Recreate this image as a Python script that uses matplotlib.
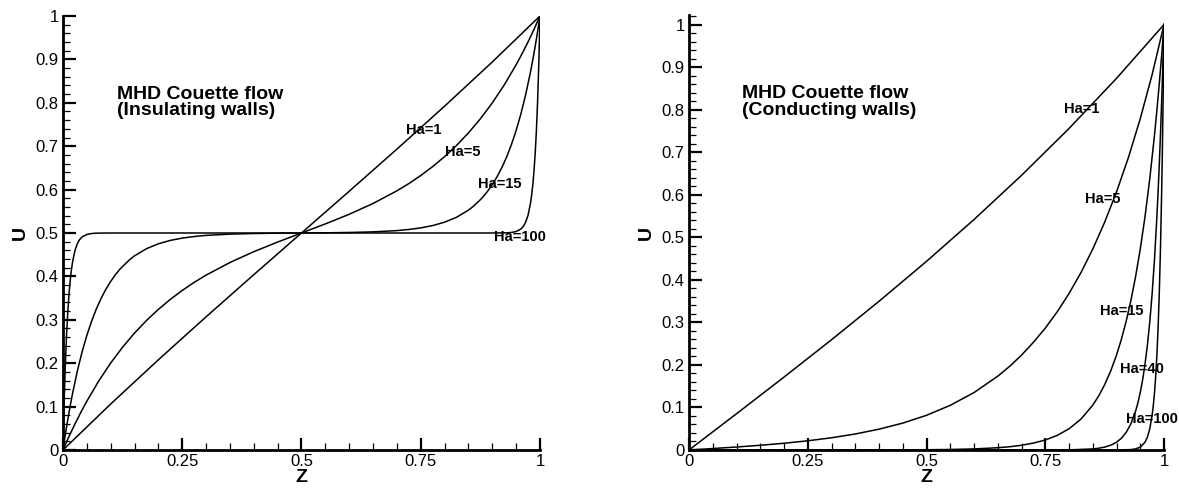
import matplotlib
matplotlib.use("Agg")
import matplotlib.pyplot as plt
from matplotlib.ticker import MultipleLocator

plt.rcParams['font.family'] = ['Liberation Sans', 'DejaVu Sans']

# ---- insulating walls (left panel) ----
z_ins_ha1 = [0, 0.1, 0.2, 0.3, 0.4, 0.5, 0.6, 0.7, 0.8, 0.9, 1.0]
u_ins_ha1 = [0, 0.1059, 0.2078, 0.3068, 0.4039, 0.5, 0.5961, 0.6932, 0.7922, 0.8941, 1.0]

z_ins_ha5 = [0, 0.0125, 0.025, 0.0375, 0.05, 0.075, 0.1, 0.125, 0.15, 0.175, 0.2, 0.225, 0.25, 0.275,
             0.3, 0.35, 0.4, 0.45, 0.5, 0.55, 0.6, 0.65, 0.7, 0.725, 0.75, 0.775, 0.8, 0.825, 0.85,
             0.875, 0.9, 0.925, 0.95, 0.9625, 0.975, 0.9875, 1.0]
u_ins_ha5 = [0, 0.0307, 0.0596, 0.0868, 0.1123, 0.1590, 0.2003, 0.2369, 0.2694, 0.2983, 0.3240, 0.3470,
             0.3676, 0.3862, 0.4029, 0.4320, 0.4569, 0.4791, 0.5, 0.5209, 0.5431, 0.5680, 0.5971, 0.6138,
             0.6324, 0.6530, 0.6760, 0.7017, 0.7306, 0.7631, 0.7997, 0.8410, 0.8877, 0.9132, 0.9404,
             0.9693, 1.0]

z_ins_ha15 = [0, 0.005, 0.01, 0.015, 0.02, 0.03, 0.04, 0.05, 0.06, 0.07, 0.08, 0.09, 0.1, 0.11, 0.12,
              0.14, 0.15, 0.175, 0.2, 0.225, 0.25, 0.275, 0.3, 0.35, 0.4, 0.45, 0.5,
              0.55, 0.6, 0.65, 0.7, 0.725, 0.75, 0.775, 0.8, 0.825, 0.85, 0.86, 0.875, 0.88, 0.89,
              0.9, 0.91, 0.92, 0.93, 0.94, 0.95, 0.96, 0.97, 0.98, 0.985, 0.99, 0.995, 1.0]
u_ins_ha15 = [0, 0.0361, 0.0696, 0.1006, 0.1296, 0.1812, 0.2256, 0.2638, 0.2967, 0.3251, 0.3494, 0.3704,
              0.3884, 0.4040, 0.4174, 0.4388, 0.4473, 0.4638, 0.4751, 0.4829, 0.4882, 0.4919, 0.4945,
              0.4974, 0.4988, 0.4996, 0.5,
              0.5004, 0.5012, 0.5026, 0.5055, 0.5081, 0.5118, 0.5171, 0.5249, 0.5362, 0.5527, 0.5612,
              0.5767, 0.5826, 0.5960, 0.6116, 0.6296, 0.6506, 0.6749, 0.7033, 0.7362, 0.7744, 0.8188,
              0.8704, 0.8994, 0.9304, 0.9639, 1.0]

z_ins_ha100 = [0, 0.0025, 0.005, 0.0075, 0.01, 0.0125, 0.015, 0.0175, 0.02, 0.025, 0.03, 0.035, 0.04,
               0.05, 0.06, 0.07, 0.08, 0.1, 0.5, 0.9, 0.92, 0.93, 0.94, 0.95, 0.96, 0.965, 0.97, 0.975,
               0.98, 0.9825, 0.985, 0.9875, 0.99, 0.9925, 0.995, 0.9975, 1.0]
u_ins_ha100 = [0, 0.1106, 0.1967, 0.2638, 0.3161, 0.3568, 0.3884, 0.4131, 0.4323, 0.4590, 0.4751, 0.4849,
               0.4908, 0.4966, 0.4988, 0.4996, 0.4998, 0.5, 0.5, 0.5, 0.5002, 0.5004, 0.5012, 0.5034,
               0.5092, 0.5151, 0.5249, 0.5410, 0.5677, 0.5869, 0.6116, 0.6432, 0.6839, 0.7362, 0.8033,
               0.8894, 1.0]

# ---- conducting walls (right panel) ----
z_con_ha1 = [0, 0.1, 0.2, 0.3, 0.4, 0.5, 0.6, 0.7, 0.8, 0.9, 1.0]
u_con_ha1 = [0, 0.0852, 0.1713, 0.2591, 0.3495, 0.4434, 0.5417, 0.6455, 0.7557, 0.8735, 1.0]

z_con_ha5 = [0, 0.05, 0.1, 0.15, 0.2, 0.25, 0.3, 0.35, 0.4, 0.45, 0.5, 0.55, 0.6, 0.65, 0.675, 0.7,
             0.725, 0.75, 0.775, 0.8, 0.825, 0.85, 0.875, 0.9, 0.925, 0.95, 0.975, 1.0]
u_con_ha5 = [0, 0.0034, 0.0070, 0.0111, 0.0158, 0.0216, 0.0287, 0.0376, 0.0489, 0.0632, 0.0815, 0.1050,
             0.1350, 0.1735, 0.1966, 0.2229, 0.2530, 0.2864, 0.3245, 0.3678, 0.4167, 0.4723, 0.5353,
             0.6065, 0.6873, 0.7788, 0.8825, 1.0]

z_con_ha15 = [0, 0.3, 0.5, 0.55, 0.6, 0.65, 0.675, 0.7, 0.725, 0.75, 0.775, 0.8, 0.825, 0.85, 0.8625,
              0.875, 0.8875, 0.9, 0.91, 0.92, 0.93, 0.94, 0.95, 0.96, 0.97, 0.98, 0.985, 0.99, 0.995, 1.0]
u_con_ha15 = [0, 0.0, 0.0006, 0.0012, 0.0025, 0.0053, 0.0076, 0.0111, 0.0162, 0.0235, 0.0342, 0.0498,
              0.0724, 0.1054, 0.1271, 0.1534, 0.1850, 0.2231, 0.2592, 0.3012, 0.3499, 0.4066, 0.4724,
              0.5488, 0.6376, 0.7408, 0.7985, 0.8607, 0.9277, 1.0]

z_con_ha40 = [0, 0.7, 0.8, 0.85, 0.86, 0.875, 0.89, 0.9, 0.91, 0.92, 0.93, 0.94, 0.945, 0.95, 0.955,
              0.96, 0.965, 0.97, 0.975, 0.98, 0.985, 0.9875, 0.99, 0.9925, 0.995, 0.9975, 1.0]
u_con_ha40 = [0, 0.0, 0.0003, 0.0025, 0.0037, 0.0067, 0.0123, 0.0183, 0.0273, 0.0408, 0.0608, 0.0907,
              0.1108, 0.1353, 0.1653, 0.2019, 0.2466, 0.3012, 0.3679, 0.4493, 0.5488, 0.6065, 0.6703,
              0.7408, 0.8187, 0.9048, 1.0]

z_con_ha100 = [0, 0.9, 0.93, 0.94, 0.95, 0.96, 0.965, 0.97, 0.975, 0.9775, 0.98, 0.9825, 0.985, 0.9875,
               0.99, 0.9925, 0.995, 0.99625, 0.9975, 0.99875, 1.0]
u_con_ha100 = [0, 0.0, 0.0009, 0.0025, 0.0067, 0.0183, 0.0302, 0.0498, 0.0821, 0.1054, 0.1353, 0.1738,
               0.2231, 0.2865, 0.3679, 0.4724, 0.6065, 0.6873, 0.7788, 0.8825, 1.0]

ins_curves = [(z_ins_ha1, u_ins_ha1), (z_ins_ha5, u_ins_ha5), (z_ins_ha15, u_ins_ha15), (z_ins_ha100, u_ins_ha100)]
con_curves = [(z_con_ha1, u_con_ha1), (z_con_ha5, u_con_ha5), (z_con_ha15, u_con_ha15),
              (z_con_ha40, u_con_ha40), (z_con_ha100, u_con_ha100)]

ins_labels = ['Ha=1', 'Ha=5', 'Ha=15', 'Ha=100']
ins_label_pos = [(0.757, 0.737), (0.838, 0.687), (0.915, 0.613), (0.958, 0.491)]
con_labels = ['Ha=1', 'Ha=5', 'Ha=15', 'Ha=40', 'Ha=100']
con_label_pos = [(0.827, 0.802), (0.872, 0.591), (0.911, 0.327), (0.954, 0.191), (0.975, 0.073)]

titles = ['MHD Couette flow\n(Insulating walls)', 'MHD Couette flow\n(Conducting walls)']


def style_axes(ax, ytop):
    ax.set_xlim(0, 1)
    ax.set_ylim(0, ytop)
    for s in ['top', 'right']:
        ax.spines[s].set_visible(False)
    for s in ['left', 'bottom']:
        ax.spines[s].set_linewidth(2.0)
    ax.xaxis.set_minor_locator(MultipleLocator(0.05))
    ax.yaxis.set_minor_locator(MultipleLocator(0.02))
    ax.set_xticks([0, 0.25, 0.5, 0.75, 1])
    ax.set_xticklabels(['0', '0.25', '0.5', '0.75', '1'])
    ax.set_yticks([0, 0.1, 0.2, 0.3, 0.4, 0.5, 0.6, 0.7, 0.8, 0.9, 1.0])
    ax.set_yticklabels(['0', '0.1', '0.2', '0.3', '0.4', '0.5', '0.6', '0.7', '0.8', '0.9', '1'])
    ax.tick_params(which='major', direction='in', length=9, width=1.6, labelsize=12, pad=3)
    ax.tick_params(which='minor', direction='in', length=5, width=0.9)
    ax.set_xlabel('Z', fontsize=14, fontweight='bold', labelpad=0)
    ax.set_ylabel('U', fontsize=14, fontweight='bold', labelpad=5)


fig = plt.figure(figsize=(11.79, 4.88), dpi=100)
ax1 = fig.add_axes([0.0534, 0.0779, 0.4046, 0.8893])
ax2 = fig.add_axes([0.5844, 0.0779, 0.4029, 0.8910])

for z, u in ins_curves:
    ax1.plot(z, u, color='black', lw=1.1)
for lab, (x, y) in zip(ins_labels, ins_label_pos):
    ax1.text(x, y, lab, fontsize=10.5, fontweight='bold', ha='center', va='center')
ax1.text(0.113, 0.80, titles[0], fontsize=14, fontweight='bold', ha='left', va='center', linespacing=0.95)
style_axes(ax1, 1.0)

for z, u in con_curves:
    ax2.plot(z, u, color='black', lw=1.1)
for lab, (x, y) in zip(con_labels, con_label_pos):
    ax2.text(x, y, lab, fontsize=10.5, fontweight='bold', ha='center', va='center')
ax2.text(0.112, 0.818, titles[1], fontsize=14, fontweight='bold', ha='left', va='center', linespacing=0.95)
style_axes(ax2, 1.022)

fig.savefig('out.png', dpi=100)
